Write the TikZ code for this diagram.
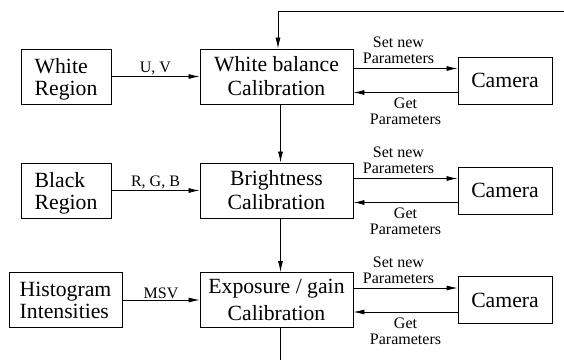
\documentclass[tikz,border=0pt]{standalone}
\usepackage{fontspec}
\setmainfont{Liberation Serif}
\usetikzlibrary{arrows.meta, positioning}
\tikzset{
  srcbox/.style={draw, line width=0.9pt, align=left, inner sep=0pt,
                 minimum height=55pt, text depth=0pt,
                 font=\fontsize{21.7}{22}\selectfont},
  calbox/.style={draw, line width=0.9pt, align=center, inner sep=0pt,
                 minimum width=153pt, minimum height=55pt,
                 font=\fontsize{21.7}{24}\selectfont},
  cambox/.style={draw, line width=0.9pt, inner sep=0pt, minimum width=94pt,
                 minimum height=47pt, font=\fontsize{21.7}{22}\selectfont},
  arrow/.style={-{Latex[length=11pt,width=5pt]}, line width=0.8pt},
  line/.style={line width=0.8pt},
  lbl/.style={font=\fontsize{16}{16}\selectfont, align=center, inner sep=1pt},
  setlbl/.style={lbl, above, xshift=-7pt, yshift=3pt},
  getlbl/.style={lbl, below, yshift=-4pt},
}

\begin{document}
\begin{tikzpicture}[x=1pt, y=-1pt]
  \useasboundingbox (0,0) rectangle (564,360);

  % Sources
  \node[srcbox, minimum width=90pt]  (wreg) at (66,76.5) {White\\Region};
  \node[srcbox, minimum width=90pt]  (breg) at (66,190.5) {Black\\Region};
  \node[srcbox, minimum width=113pt] (hist) at (65.5,300) {Histogram\\Intensities};

  % Calibration steps
  \node[calbox] (wb)     at (276.5,76.5) {White balance\\Calibration};
  \node[calbox] (bright) at (276.5,190.5) {Brightness\\Calibration};
  \node[calbox, font=\fontsize{21.7}{27}\selectfont]
                (expo)   at (276.5,300) {Exposure / gain\\Calibration};

  % Cameras
  \node[cambox] (cam1) at (505,80.5) {Camera};
  \node[cambox] (cam2) at (505,190.5) {Camera};
  \node[cambox] (cam3) at (505,300) {Camera};

  % Inputs
  \draw[arrow] (wreg) -- node[lbl, above] {U, V} (wb);
  \draw[arrow] (breg) -- node[lbl, above] {R, G, B} (bright);
  \draw[arrow] (hist) -- node[lbl, above] {MSV} (expo);

  % Set / get parameters
  \coordinate (set1) at ([yshift=12pt]cam1.west);
  \coordinate (get1) at ([yshift=-12pt]cam1.west);
  \coordinate (set2) at ([yshift=12pt]cam2.west);
  \coordinate (get2) at ([yshift=-12pt]cam2.west);
  \coordinate (set3) at ([yshift=12pt]cam3.west);
  \coordinate (get3) at ([yshift=-12pt]cam3.west);

  \draw[arrow] (wb.east |- set1) -- node[setlbl] {Set new\\Parameters} (set1);
  \draw[arrow] (get1) -- node[getlbl] {Get\\Parameters} (wb.east |- get1);
  \draw[arrow] (bright.east |- set2) -- node[setlbl] {Set new\\Parameters} (set2);
  \draw[arrow] (get2) -- node[getlbl] {Get\\Parameters} (bright.east |- get2);
  \draw[arrow] (expo.east |- set3) -- node[setlbl] {Set new\\Parameters} (set3);
  \draw[arrow] (get3) -- node[getlbl] {Get\\Parameters} (expo.east |- get3);

  % Chain and feedback
  \draw[arrow] ([xshift=4pt]wb.south) -- ([xshift=4pt]bright.north);
  \draw[arrow] ([xshift=4pt]bright.south) -- ([xshift=4pt]expo.north);
  \coordinate (fb) at (564,11);
  \coordinate (out) at (280.5,360);
  \draw[arrow] (fb) -| ([xshift=1.5pt]wb.north);
  \draw[line] ([xshift=4pt]expo.south) -- (out);
\end{tikzpicture}
\end{document}
